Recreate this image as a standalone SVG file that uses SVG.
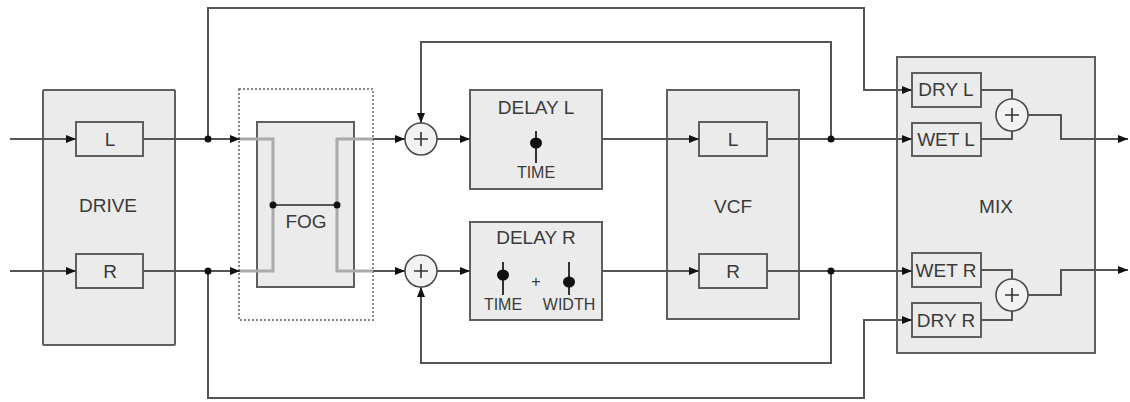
<svg xmlns="http://www.w3.org/2000/svg" width="1130" height="402" viewBox="0 0 1130 402">
<style>
.box{fill:#ebebeb;stroke:#5f5f5f;stroke-width:2}
.sub{fill:#ebebeb;stroke:#5f5f5f;stroke-width:2}
.sum{fill:#f2f2f2;stroke:#4a4a4a;stroke-width:1.6}
.w{fill:none;stroke:#555;stroke-width:2}
.g{fill:none;stroke:#aaa;stroke-width:3}
.t{font-family:"Liberation Sans",Arial,sans-serif;font-size:19px;fill:#3a3a3a;text-anchor:middle}
.s{font-family:"Liberation Sans",Arial,sans-serif;font-size:16px;fill:#3a3a3a;text-anchor:middle}
.dot{fill:#111}
.sl{stroke:#333;stroke-width:2}
</style>
<defs>
<marker id="a" markerWidth="10" markerHeight="8" refX="10" refY="4" orient="auto" markerUnits="userSpaceOnUse">
<path d="M0,0 L10,4 L0,8 Z" fill="#111"/>
</marker>
</defs>
<g id="drive">
<rect class="box" x="43" y="90" width="132" height="255" rx="1"/>
<rect class="sub" x="76" y="122" width="67" height="34"/>
<rect class="sub" x="76" y="254" width="67" height="34"/>
<text class="t" x="110" y="146">L</text>
<text class="t" x="110" y="278">R</text>
<text class="t" x="108" y="212">DRIVE</text>
</g>
<g id="fog">
<rect x="239" y="89" width="134" height="231" fill="none" stroke="#888" stroke-width="2" stroke-dasharray="2 2"/>
<rect class="box" x="257" y="122" width="97" height="165"/>
<path class="g" d="M240,139 H273 V271 H240 M373,139 H337 V271 H373"/>
<path d="M273,205 H337" stroke="#555" stroke-width="2"/>
<circle class="dot" cx="273" cy="205" r="3.5"/>
<circle class="dot" cx="337" cy="205" r="3.5"/>
<text class="t" x="306" y="228">FOG</text>
</g>
<g id="sumL">
<circle class="sum" cx="421" cy="139" r="16"/>
<path d="M414,139 H428 M421,132 V146" stroke="#333" stroke-width="1.6"/>
</g>
<g id="sumR">
<circle class="sum" cx="421" cy="271" r="16"/>
<path d="M414,271 H428 M421,264 V278" stroke="#333" stroke-width="1.6"/>
</g>
<g id="delayL">
<rect class="box" x="470" y="90" width="132" height="99"/>
<text class="t" x="536" y="114">DELAY L</text>
<path class="sl" d="M536,131 V163"/>
<ellipse cx="536" cy="143" rx="6" ry="5.5" fill="#111"/>
<text class="s" x="536" y="178">TIME</text>
</g>
<g id="delayR">
<rect class="box" x="470" y="222" width="132" height="98"/>
<text class="t" x="536" y="244">DELAY R</text>
<path class="sl" d="M503,262 V295"/>
<ellipse cx="503" cy="275" rx="6" ry="5.5" fill="#111"/>
<path class="sl" d="M569,262 V295"/>
<ellipse cx="569" cy="282" rx="6" ry="5.5" fill="#111"/>
<text class="s" x="536" y="287">+</text>
<text class="s" x="503" y="310">TIME</text>
<text class="s" x="569" y="310">WIDTH</text>
</g>
<g id="vcf">
<rect class="box" x="667" y="90" width="132" height="229"/>
<rect class="sub" x="699" y="122" width="68" height="34"/>
<rect class="sub" x="699" y="254" width="68" height="34"/>
<text class="t" x="733" y="146">L</text>
<text class="t" x="733" y="278">R</text>
<text class="t" x="733" y="213">VCF</text>
</g>
<g id="mix">
<rect class="box" x="897" y="57" width="198" height="296"/>
<rect class="sub" x="912" y="73" width="69" height="34"/>
<rect class="sub" x="912" y="123" width="69" height="33"/>
<rect class="sub" x="912" y="253" width="69" height="34"/>
<rect class="sub" x="912" y="303" width="69" height="34"/>
<text class="t" x="946" y="96">DRY L</text>
<text class="t" x="946" y="146">WET L</text>
<text class="t" x="946" y="277">WET R</text>
<text class="t" x="946" y="327">DRY R</text>
<text class="t" x="996" y="213">MIX</text>
<path class="w" d="M981,90 H1012 V99 M981,139 H1012 V131 M981,270 H1012 V279 M981,320 H1012 V311"/>
<circle class="sum" cx="1012" cy="115" r="16"/>
<path d="M1005,115 H1019 M1012,108 V122" stroke="#333" stroke-width="1.6"/>
<circle class="sum" cx="1012" cy="295" r="16"/>
<path d="M1005,295 H1019 M1012,288 V302" stroke="#333" stroke-width="1.6"/>
</g>
<g id="connectors">
<path class="w" d="M10,139 H76" marker-end="url(#a)"/>
<path class="w" d="M10,271 H76" marker-end="url(#a)"/>
<path class="w" d="M143,139 H240" marker-end="url(#a)"/>
<path class="w" d="M143,271 H240" marker-end="url(#a)"/>
<path class="w" d="M373,139 H405" marker-end="url(#a)"/>
<path class="w" d="M373,271 H405" marker-end="url(#a)"/>
<path class="w" d="M437,139 H470" marker-end="url(#a)"/>
<path class="w" d="M437,271 H470" marker-end="url(#a)"/>
<path class="w" d="M602,139 H699" marker-end="url(#a)"/>
<path class="w" d="M602,271 H699" marker-end="url(#a)"/>
<path class="w" d="M767,139 H912" marker-end="url(#a)"/>
<path class="w" d="M767,271 H912" marker-end="url(#a)"/>
<path class="w" d="M208,139 V8 H864 V90 H912" marker-end="url(#a)"/>
<path class="w" d="M208,271 V398 H864 V320 H912" marker-end="url(#a)"/>
<path class="w" d="M831,139 V42 H421 V123" marker-end="url(#a)"/>
<path class="w" d="M831,271 V363 H421 V287" marker-end="url(#a)"/>
<path class="w" d="M1028,115 H1061 V139 H1128" marker-end="url(#a)"/>
<path class="w" d="M1028,295 H1061 V270 H1128" marker-end="url(#a)"/>
<circle class="dot" cx="208" cy="139" r="3.5"/>
<circle class="dot" cx="208" cy="271" r="3.5"/>
<circle class="dot" cx="831" cy="139" r="3.5"/>
<circle class="dot" cx="831" cy="271" r="3.5"/>
</g>
</svg>
